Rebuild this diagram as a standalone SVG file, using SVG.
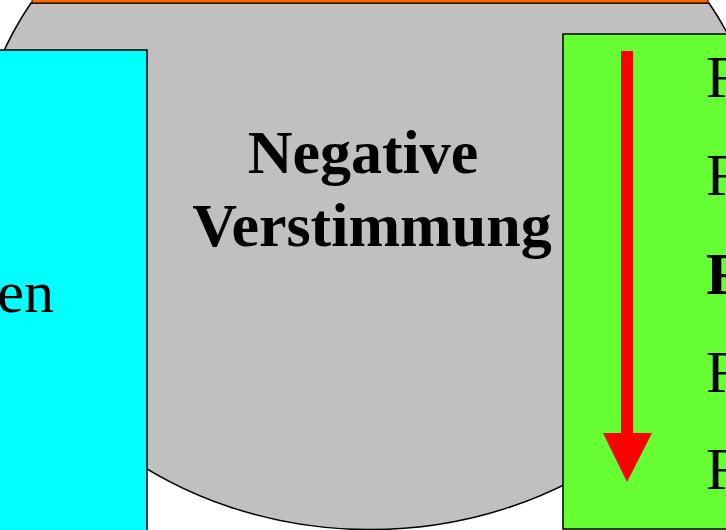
<svg xmlns="http://www.w3.org/2000/svg" width="726" height="530" viewBox="0 0 726 530">
<style>
.t{font-family:"Liberation Serif","Times New Roman",serif;font-size:60px;fill:#000}
.b{font-weight:bold}
.c{font-size:62px}
.ol{stroke:#000;stroke-width:1.5}
</style>
<rect width="726" height="530" fill="#fff"/>
<g id="ellipse-node">
<path class="ol" d="M 31 3 A 395 348 0 1 0 709 3 Z" fill="#c0c0c0"/>
<rect x="32" y="-2" width="676" height="5" fill="#ff6600" stroke="#000" stroke-width="1"/>
<text class="t b c" x="363" y="173" text-anchor="middle">Negative</text>
<text class="t b c" x="372" y="246" text-anchor="middle">Verstimmung</text>
</g>
<g id="left-node">
<rect class="ol" x="-10" y="50" width="157" height="500" fill="#00ffff"/>
<text class="t" x="54" y="312" text-anchor="end">en</text>
</g>
<g id="right-node">
<rect class="ol" x="563" y="34" width="180" height="495" fill="#66ff33"/>
<text class="t" x="706" y="97">F</text>
<text class="t" x="706" y="195">F</text>
<text class="t b" x="706" y="294">F</text>
<text class="t" x="706" y="392">F</text>
<text class="t" x="706" y="489">F</text>
</g>
<g id="connectors">
<rect x="621" y="51" width="12" height="383" fill="#ff0000"/>
<polygon points="603,433 652,433 627,482" fill="#ff0000"/>
</g>
</svg>
